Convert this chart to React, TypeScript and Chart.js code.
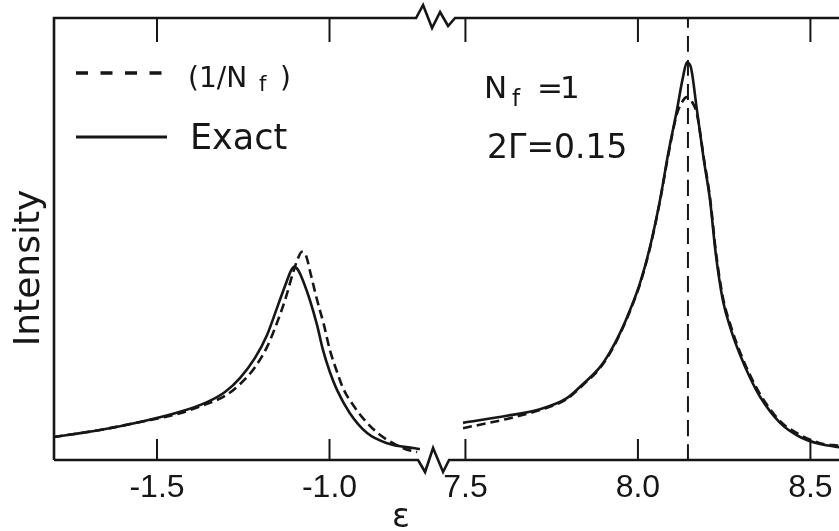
import React, { useEffect, useRef } from "react";
import { Chart, registerables } from "chart.js";

Chart.register(...registerables);

// ---- data (epsilon values and intensity in arbitrary units) ----
const BREAK_SHIFT = 8.106; // offset applied to the right-hand segment of the broken axis
const X_MIN = -1.7986;
const X_MAX = 0.5667;
const BREAK_D = -0.694;

const leftEps = [-1.8, -1.665, -1.549, -1.433, -1.355, -1.303, -1.259, -1.216, -1.181, -1.149, -1.126, -1.112, -1.103, -1.091, -1.074, -1.057, -1.036, -1.019, -0.999, -0.978, -0.941, -0.891, -0.833, -0.758, -0.738];
const leftExact = [5.2, 6.8, 8.6, 10.9, 13.1, 15.4, 18.6, 23.1, 28.3, 35.1, 40.0, 42.8, 43.7, 43.0, 40.0, 36.2, 30.5, 24.9, 19.9, 15.8, 10.6, 6.1, 3.8, 2.7, 2.5];

const leftApproxEps = [-1.8, -1.665, -1.549, -1.433, -1.355, -1.303, -1.259, -1.216, -1.181, -1.149, -1.126, -1.106, -1.091, -1.08, -1.068, -1.054, -1.036, -1.016, -0.999, -0.978, -0.961, -0.926, -0.891, -0.854, -0.816, -0.781, -0.746];
const leftApprox = [5.2, 6.8, 8.6, 10.6, 12.7, 14.5, 17.2, 21.0, 25.6, 31.7, 36.9, 42.3, 45.7, 47.1, 46.2, 41.9, 36.2, 30.5, 24.9, 19.9, 16.3, 11.8, 8.4, 5.7, 3.8, 2.5, 1.8];

const rightEps = [7.493, 7.62, 7.716, 7.794, 7.841, 7.89, 7.919, 7.948, 7.977, 8.006, 8.035, 8.064, 8.087, 8.113, 8.13, 8.142, 8.154, 8.171, 8.191, 8.209, 8.226, 8.246, 8.27, 8.296, 8.325, 8.354, 8.412, 8.47, 8.528, 8.583, 8.643];
const rightExact = [8.4, 10.0, 11.5, 14.0, 17.2, 21.0, 24.4, 28.7, 33.9, 40.0, 48.2, 58.8, 69.0, 79.2, 86.4, 90.0, 88.7, 79.2, 67.9, 58.8, 46.4, 36.2, 29.4, 23.8, 18.6, 14.3, 8.4, 5.2, 3.6, 2.9, 2.3];

const rightApproxEps = [7.493, 7.62, 7.716, 7.794, 7.841, 7.89, 7.919, 7.948, 7.977, 8.006, 8.035, 8.064, 8.087, 8.113, 8.128, 8.142, 8.157, 8.171, 8.191, 8.209, 8.226, 8.246, 8.27, 8.296, 8.325, 8.354, 8.412, 8.47, 8.528, 8.583, 8.643];
const rightApprox = [7.2, 9.3, 11.3, 13.8, 17.0, 20.8, 24.2, 28.5, 33.7, 39.8, 48.0, 58.6, 68.6, 78.3, 81.0, 82.1, 81.0, 78.3, 68.3, 59.3, 47.1, 36.9, 30.1, 24.4, 19.2, 14.9, 8.8, 5.7, 3.8, 3.2, 2.5];

const peakMarkerEps = 8.145;
const peakMarkerRange = [0, 100];

const tickValues = [-1.5, -1.0, 7.5, 8.0, 8.5];
const tickLabels = ["-1.5", "-1.0", "7.5", "8.0", "8.5"];

const INK = "#161616";

const toD = (e: number) => (e < 0 ? e : e - BREAK_SHIFT);
const mk = (eps: number[], vals: number[]) => eps.map((e, i) => ({ x: toD(e), y: vals[i] }));

const decorPlugin = {
  id: "decor",
  afterDraw(chart: any) {
    const ctx: CanvasRenderingContext2D = chart.ctx;
    const xs = chart.scales.x;
    const { left, top, bottom, right } = chart.chartArea;
    const cx = xs.getPixelForValue(BREAK_D);
    ctx.save();
    ctx.strokeStyle = INK;
    ctx.fillStyle = INK;
    ctx.lineJoin = "miter";
    ctx.lineCap = "butt";
    ctx.setLineDash([]);

    // frame with zig-zag breaks
    ctx.lineWidth = 2.6;
    ctx.beginPath();
    ctx.moveTo(left, bottom);
    ctx.lineTo(left, top);
    const topZ = [[-19, 0], [-12, -13], [-3, 10], [5, -6], [13, 8], [20, 0]];
    topZ.forEach(([dx, dy]) => ctx.lineTo(cx + dx, top + dy));
    ctx.lineTo(right, top);
    ctx.lineTo(right, bottom);
    const botZ = [[14, 0], [8, 12], [-2, -12], [-10, 12], [-17, 0]];
    botZ.forEach(([dx, dy]) => ctx.lineTo(cx + dx, bottom + dy));
    ctx.lineTo(left, bottom);
    ctx.stroke();

    // inward ticks, bottom and top
    ctx.lineWidth = 2;
    tickValues.forEach((v) => {
      const px = xs.getPixelForValue(toD(v));
      ctx.beginPath();
      ctx.moveTo(px, bottom);
      ctx.lineTo(px, bottom - 21);
      ctx.moveTo(px, top);
      ctx.lineTo(px, top + 24);
      ctx.stroke();
    });

    // tick labels
    ctx.font = "32px 'Liberation Sans'";
    ctx.textAlign = "center";
    ctx.textBaseline = "alphabetic";
    tickValues.forEach((v, i) => {
      const px = xs.getPixelForValue(toD(v));
      ctx.fillText(tickLabels[i], px, 497);
    });

    // x axis title
    ctx.font = "33px 'DejaVu Sans'";
    ctx.fillText("ε", 401, 527);

    // y axis title
    ctx.save();
    ctx.translate(39, 268);
    ctx.rotate(-Math.PI / 2);
    ctx.font = "36px 'DejaVu Sans'";
    ctx.textAlign = "center";
    ctx.fillText("Intensity", 0, 0);
    ctx.restore();

    // legend
    ctx.lineWidth = 3.5;
    ctx.setLineDash([12, 12.5]);
    ctx.beginPath();
    ctx.moveTo(76, 73);
    ctx.lineTo(168, 73);
    ctx.stroke();
    ctx.setLineDash([]);
    ctx.lineWidth = 2.8;
    ctx.beginPath();
    ctx.moveTo(76, 137);
    ctx.lineTo(167, 137);
    ctx.stroke();

    ctx.textAlign = "left";
    ctx.font = "28px 'DejaVu Sans'";
    ctx.fillText("(1/N", 188, 87);
    ctx.font = "21px 'DejaVu Sans'";
    ctx.fillText("f", 259, 91);
    ctx.font = "28px 'DejaVu Sans'";
    ctx.fillText(")", 280, 87);
    ctx.font = "35px 'DejaVu Sans'";
    ctx.fillText("Exact", 190, 149);

    // annotations
    ctx.font = "31px 'DejaVu Sans'";
    ctx.fillText("N", 484, 98);
    ctx.font = "23px 'DejaVu Sans'";
    ctx.fillText("f", 512, 106);
    ctx.font = "31px 'DejaVu Sans'";
    ctx.fillText("=", 537, 98);
    ctx.fillText("1", 560, 98);
    ctx.font = "33px 'DejaVu Sans'";
    ctx.fillText("2Γ=0.15", 487, 158);

    ctx.restore();
  },
};

export default function App() {
  const ref = useRef<HTMLCanvasElement>(null);

  useEffect(() => {
    const canvas = ref.current;
    if (!canvas) return;
    const common = {
      borderColor: INK,
      borderWidth: 2.6,
      pointRadius: 0,
      fill: false,
      cubicInterpolationMode: "monotone" as const,
    };
    const chart = new Chart(canvas, {
      type: "line",
      data: {
        datasets: [
          { ...common, label: "Exact", data: mk(leftEps, leftExact) },
          { ...common, label: "(1/Nf)", data: mk(leftApproxEps, leftApprox), borderDash: [9, 5] },
          { ...common, label: "Exact", data: mk(rightEps, rightExact) },
          { ...common, label: "(1/Nf)", data: mk(rightApproxEps, rightApprox), borderDash: [9, 5] },
          {
            ...common,
            label: "peak",
            borderWidth: 2,
            borderDash: [16, 8],
            data: peakMarkerRange.map((y) => ({ x: toD(peakMarkerEps), y })),
          },
        ],
      },
      options: {
        animation: false,
        responsive: false,
        maintainAspectRatio: false,
        devicePixelRatio: 1,
        layout: { padding: { left: 54, top: 18, right: 10, bottom: 71 } },
        plugins: { legend: { display: false }, tooltip: { enabled: false } },
        scales: {
          x: { type: "linear", min: X_MIN, max: X_MAX, display: false },
          y: { type: "linear", min: 0, max: 100, display: false },
        },
      },
      plugins: [decorPlugin],
    });
    return () => chart.destroy();
  }, []);

  return (
    <div
      style={{
        position: "fixed",
        left: 0,
        top: 0,
        width: 839,
        height: 531,
        overflow: "hidden",
        background: "#fff",
      }}
    >
      <canvas ref={ref} width={880} height={531} style={{ display: "block", width: 880, height: 531 }} />
    </div>
  );
}
